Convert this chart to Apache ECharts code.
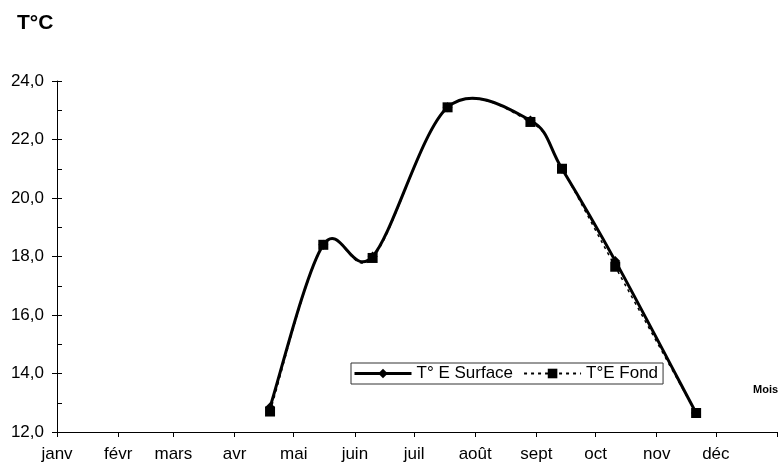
<!DOCTYPE html>
<html>
<head>
<meta charset="utf-8">
<script src="https://cdn.jsdelivr.net/npm/echarts@6/dist/echarts.min.js"></script>
<style>
  html, body { margin: 0; padding: 0; background: #fff; }
  #chart { width: 784px; height: 468px; }
</style>
</head>
<body>
<div id="chart"></div>
<script>
// mois (début de chaque mois en jours depuis le 1er janvier)
const monthNames = ['janv', 'févr', 'mars', 'avr', 'mai', 'juin', 'juil', 'août', 'sept', 'oct', 'nov', 'déc'];
const monthStarts = [0, 31, 59, 90, 120, 151, 181, 212, 243, 273, 304, 334];

// dates des prélèvements (jour de l'année)
const sampleDays = [108, 135, 160, 198, 240, 256, 283, 324];
const surfaceTemp = [12.85, 18.4, 18.0, 23.1, 22.65, 21.0, 17.85, 12.65];
const fondTemp = [12.7, 18.4, 17.95, 23.1, 22.6, 21.0, 17.65, 12.65];

const yTicks = [12, 14, 16, 18, 20, 22, 24];

const FONT = 'Liberation Sans, Arial, sans-serif';

// courbe lissée façon Excel (bezier, tangentes = (P[i+1]-P[i-1])/6)
function smoothCurve(vals, lineStyle) {
  return function (params, api) {
    if (params.dataIndex !== 0) return null;
    const pts = sampleDays.map((d, i) => api.coord([d, vals[i]]));
    const n = pts.length;
    let path = 'M' + pts[0][0] + ' ' + pts[0][1];
    for (let i = 0; i < n - 1; i++) {
      const p0 = pts[Math.max(i - 1, 0)];
      const p1 = pts[i];
      const p2 = pts[i + 1];
      const p3 = pts[Math.min(i + 2, n - 1)];
      const c1x = p1[0] + (p2[0] - p0[0]) / 6;
      const c1y = p1[1] + (p2[1] - p0[1]) / 6;
      const c2x = p2[0] - (p3[0] - p1[0]) / 6;
      const c2y = p2[1] - (p3[1] - p1[1]) / 6;
      path += ' C' + c1x + ' ' + c1y + ' ' + c2x + ' ' + c2y + ' ' + p2[0] + ' ' + p2[1];
    }
    return {
      type: 'path',
      shape: { pathData: path },
      style: Object.assign({ fill: 'none', stroke: '#000' }, lineStyle)
    };
  };
}

const chart = echarts.init(document.getElementById('chart'));

chart.setOption({
  animation: false,
  textStyle: { fontFamily: FONT, color: '#000' },
  graphic: [
    { type: 'text', left: 17, top: 13, style: { text: 'T°C', font: 'bold 21px ' + FONT, fill: '#000' } },
    { type: 'text', left: 753, top: 384, style: { text: 'Mois', font: 'bold 11px ' + FONT, fill: '#000' } }
  ],
  grid: { left: 57, right: 7, top: 81, bottom: 36 },
  legend: {
    left: 351, top: 363,
    padding: [2, 5, 2, 2],
    itemGap: 10,
    itemWidth: 57,
    itemHeight: 12,
    borderColor: '#333',
    borderWidth: 1,
    textStyle: { fontSize: 17, color: '#000', fontFamily: FONT },
    data: [
      { name: 'T° E Surface', lineStyle: { opacity: 1, width: 3 } },
      { name: 'T°E Fond', lineStyle: { opacity: 1, width: 2 } }
    ]
  },
  xAxis: {
    type: 'value',
    min: 0,
    max: 365,
    splitLine: { show: false },
    axisLine: { lineStyle: { color: '#000', width: 1 } },
    axisTick: { customValues: monthStarts.concat([365]), length: 5, lineStyle: { color: '#000' } },
    axisLabel: {
      customValues: monthStarts,
      margin: 14,
      fontSize: 17,
      color: '#000',
      formatter: v => monthNames[monthStarts.indexOf(v)]
    }
  },
  yAxis: [
    {
      type: 'value',
      min: 12,
      max: 24,
      interval: 2,
      splitLine: { show: false },
      axisLine: { show: true, lineStyle: { color: '#000' } },
      axisTick: { show: true, length: 5, lineStyle: { color: '#000' } },
      axisLabel: {
        customValues: yTicks,
        margin: 13,
        fontSize: 17,
        color: '#000',
        formatter: v => v.toFixed(1).replace('.', ',')
      }
    },
    {
      type: 'value',
      position: 'left',
      min: 12,
      max: 24,
      interval: 1,
      splitLine: { show: false },
      axisLine: { show: false },
      axisTick: { show: true, inside: true, length: 5, lineStyle: { color: '#000' } },
      axisLabel: { show: false }
    }
  ],
  series: [
    {
      name: 'courbe surface',
      type: 'custom',
      renderItem: smoothCurve(surfaceTemp, { lineWidth: 3 }),
      data: sampleDays.map((d, i) => [d, surfaceTemp[i]]),
      silent: true
    },
    {
      name: 'courbe fond',
      type: 'custom',
      renderItem: smoothCurve(fondTemp, { lineWidth: 1.5, lineDash: [3, 4] }),
      data: sampleDays.map((d, i) => [d, fondTemp[i]]),
      silent: true
    },
    {
      name: 'T° E Surface',
      type: 'line',
      symbol: 'diamond',
      symbolSize: 10,
      itemStyle: { color: '#000' },
      lineStyle: { color: '#000', width: 3, opacity: 0 },
      data: sampleDays.map((d, i) => [d, surfaceTemp[i]])
    },
    {
      name: 'T°E Fond',
      type: 'line',
      symbol: 'rect',
      symbolSize: 10,
      itemStyle: { color: '#000' },
      lineStyle: { color: '#000', width: 1.5, type: [3, 4], opacity: 0 },
      data: sampleDays.map((d, i) => [d, fondTemp[i]])
    }
  ]
});
</script>
</body>
</html>
